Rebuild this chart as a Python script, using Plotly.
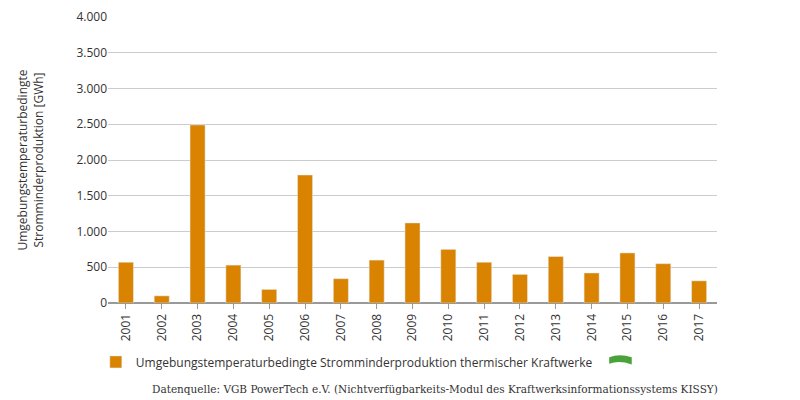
import plotly.graph_objects as go

years = [str(y) for y in range(2001, 2018)]
values = [570, 100, 2490, 530, 190, 1790, 340, 600, 1120, 750, 570, 400, 650, 420, 700, 550, 310]
series_name = "Umgebungstemperaturbedingte Stromminderproduktion thermischer Kraftwerke"
tick_vals = [0, 500, 1000, 1500, 2000, 2500, 3000, 3500, 4000]
tick_text = ["0", "500", "1.000", "1.500", "2.000", "2.500", "3.000", "3.500", "4.000"]

fig = go.Figure(go.Bar(x=years, y=values, name=series_name, marker_color="#D98300", width=0.42))
fig.update_layout(
    width=800, height=400, plot_bgcolor="white", paper_bgcolor="white",
    margin=dict(l=100, r=91, t=9, b=105, autoexpand=False),
    font=dict(family="Open Sans", size=12, color="#333"),
    showlegend=True,
    legend=dict(orientation="h", x=-0.02, y=-0.206, xanchor="left", yanchor="middle", font=dict(size=12)),
    xaxis=dict(automargin=False, tickangle=-90, showline=True, linecolor="#999", ticks="outside", ticklen=5, tickcolor="#999"),
    yaxis=dict(automargin=False, range=[0, 4000], tickvals=tick_vals, ticktext=tick_text, gridcolor="#ccc",
               showline=False, zeroline=True, zerolinecolor="#999",
               title=dict(text="Umgebungstemperaturbedingte<br>Stromminderproduktion [GWh]", font=dict(size=12), standoff=30)),
    bargap=0.5,
)
fig.add_shape(type="path", xref="paper", yref="paper",
              path="M 0.823 -0.19 Q 0.84 -0.175 0.86 -0.19 L 0.86 -0.215 Q 0.84 -0.2 0.823 -0.212 Z",
              fillcolor="#4CA23A", line=dict(width=0))
fig.add_annotation(text="Datenquelle: VGB PowerTech e.V. (Nichtverfügbarkeits-Modul des Kraftwerksinformationssystems KISSY)",
                   xref="paper", yref="paper", x=1.005, y=-0.30, xanchor="right", yanchor="middle", showarrow=False,
                   font=dict(family="DejaVu Serif", size=10.5, color="#333"))
fig.write_html("out.html")
